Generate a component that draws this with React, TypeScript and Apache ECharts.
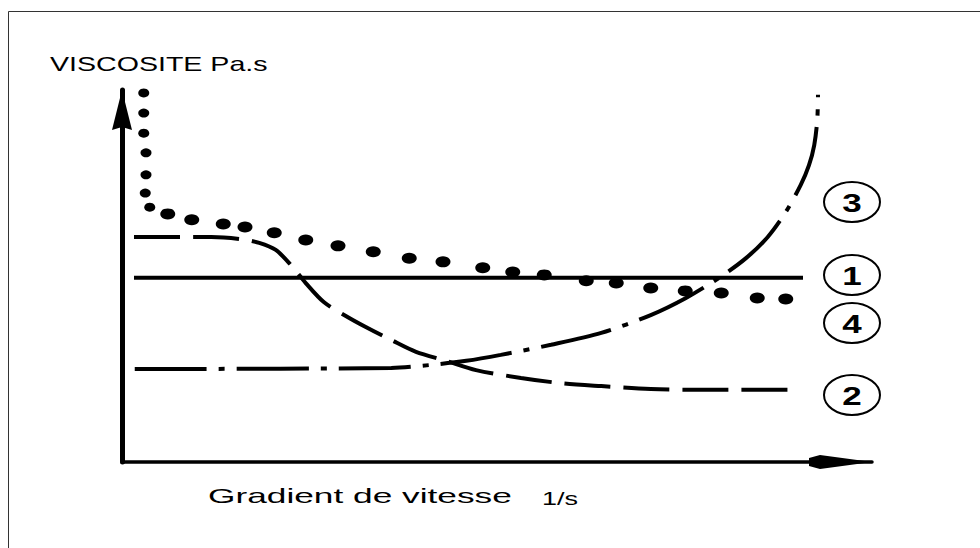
import { useEffect, useRef } from "react";
import * as echarts from "echarts";

// Axis range (abstract units)
const X_MIN = 0;
const X_MAX = 100;
const Y_MIN = 0;
const Y_MAX = 100;

// Curve 1 : Newtonian (solid, constant)
const curve1X = [1.6, 90.8];
const curve1Y = [49.5, 49.5];

// Curve 2 : shear-thinning (dashed)
const curve2X = [1.6, 11.9, 15.9, 18.3, 20.5, 22.5, 24.5, 26.9, 29.9, 32.5, 35.9, 39.2, 43.2, 47.2, 53.2, 58.5, 63.9, 70.5, 77.2, 90.1];
const curve2Y = [60.5, 60.5, 59.9, 58.9, 57.0, 53.0, 48.1, 43.0, 39.2, 36.3, 32.8, 29.6, 27.2, 24.7, 22.6, 21.2, 20.4, 19.6, 19.4, 19.4];

// Curve 3 : shear-thickening (dash-dot)
const curve3X = [1.7, 35.9, 41.2, 45.9, 50.5, 57.2, 63.9, 70.5, 75.2, 79.6, 83.2, 86.1, 88.5, 90.5, 91.6, 92.3, 92.7, 92.8];
const curve3Y = [25.0, 25.3, 26.1, 27.2, 28.8, 31.5, 34.7, 39.5, 44.1, 49.5, 54.8, 60.5, 67.2, 74.5, 79.8, 85.2, 91.9, 98.7];

// Curve 4 : plastic / yield (big dots)
const curve4X = [2.9, 2.9, 2.9, 3.2, 3.2, 3.1, 3.7, 6.1, 9.3, 13.5, 16.4, 20.3, 24.5, 28.8, 33.5, 38.3, 42.8, 48.1, 52.1, 56.3, 61.9, 65.9, 70.5, 75.1, 79.9, 84.7, 88.5];
const curve4Y = [99.2, 93.8, 88.4, 83.1, 77.2, 72.3, 68.5, 66.7, 65.1, 64.0, 63.2, 61.6, 59.7, 58.1, 56.5, 54.8, 53.8, 52.2, 51.1, 50.3, 48.7, 48.1, 46.8, 46.0, 45.4, 44.1, 43.8];

// Texts
const yTitle = "VISCOSITE Pa.s";
const xTitle = "Gradient de vitesse";
const xUnit = "1/s";
const curveLabels = ["3", "1", "4", "2"];

const zip = (xs: number[], ys: number[]) => xs.map((x, i) => [x, ys[i]]);

export default function App() {
  const ref = useRef<HTMLDivElement>(null);

  useEffect(() => {
    if (!ref.current) return;
    const chart = echarts.init(ref.current, null, { renderer: "svg" });
    const font = '"Liberation Sans", Arial, sans-serif';
    const labelCenters = [
      [852, 202],
      [852, 275],
      [852, 323],
      [852, 395],
    ];
    const labelGraphics: any[] = [];
    curveLabels.forEach((t, i) => {
      const [cx, cy] = labelCenters[i];
      labelGraphics.push({
        type: "ellipse",
        shape: { cx, cy, rx: 28, ry: 20 },
        style: { fill: "none", stroke: "#000", lineWidth: 2 },
        silent: true,
      });
      labelGraphics.push({
        type: "text",
        x: cx,
        y: cy + 1,
        scaleX: 1.4,
        style: {
          text: t,
          fontSize: 25,
          fontWeight: "bold",
          fontFamily: font,
          fill: "#000",
          align: "center",
          verticalAlign: "middle",
        },
        silent: true,
      });
    });

    chart.setOption({
      animation: false,
      backgroundColor: "#fff",
      grid: { left: 122, top: 90, width: 750, height: 372, containLabel: false },
      xAxis: {
        type: "value",
        min: X_MIN,
        max: X_MAX,
        axisLine: {
          show: true,
          onZero: false,
          symbol: ["none", "path://M0,0 L7,52 L4,63 L-4,63 L-7,52 Z"],
          symbolSize: [14, 63],
          symbolOffset: [0, -31.5],
          lineStyle: { color: "#000", width: 3.5 },
        },
        axisTick: { show: false },
        axisLabel: { show: false },
        splitLine: { show: false },
      },
      yAxis: {
        type: "value",
        min: Y_MIN,
        max: Y_MAX,
        axisLine: {
          show: true,
          onZero: false,
          symbol: ["none", "path://M0,0 L10,40 L0,37 L-10,40 Z"],
          symbolSize: [20, 40],
          symbolOffset: [0, -20],
          lineStyle: { color: "#000", width: 5 },
        },
        axisTick: { show: false },
        axisLabel: { show: false },
        splitLine: { show: false },
      },
      series: [
        {
          name: "1",
          type: "line",
          data: zip(curve1X, curve1Y),
          showSymbol: false,
          clip: false,
          silent: true,
          lineStyle: { color: "#000", width: 4, type: "solid" },
        },
        {
          name: "2",
          type: "line",
          data: zip(curve2X, curve2Y),
          showSymbol: false,
          smooth: 0.3,
          clip: false,
          silent: true,
          lineStyle: { color: "#000", width: 4, type: [46, 13] },
        },
        {
          name: "3",
          type: "line",
          data: zip(curve3X, curve3Y),
          showSymbol: false,
          smooth: 0.3,
          clip: false,
          silent: true,
          lineStyle: { color: "#000", width: 4, type: [72, 12, 6, 12] },
        },
        {
          name: "4",
          type: "scatter",
          data: zip(curve4X, curve4Y),
          symbol: "circle",
          symbolSize: (_v: any, p: any) => (p.dataIndex < 7 ? [11, 9] : [15, 11]),
          clip: false,
          silent: true,
          itemStyle: { color: "#000", opacity: 1 },
        },
      ],
      graphic: [
        {
          type: "rect",
          shape: { x: 8.5, y: 11.5, width: 1200, height: 800 },
          style: { fill: "none", stroke: "#333", lineWidth: 1 },
          silent: true,
        },
        {
          type: "text",
          x: 50,
          y: 64,
          scaleX: 1.43,
          style: {
            text: yTitle,
            fontSize: 20,
            fontFamily: font,
            fill: "#000",
            align: "left",
            verticalAlign: "middle",
          },
          silent: true,
        },
        {
          type: "text",
          x: 208,
          y: 496,
          scaleX: 1.68,
          style: {
            text: xTitle,
            fontSize: 21,
            fontFamily: font,
            fill: "#000",
            align: "left",
            verticalAlign: "middle",
          },
          silent: true,
        },
        {
          type: "text",
          x: 542,
          y: 499,
          scaleX: 1.5,
          style: {
            text: xUnit,
            fontSize: 18,
            fontFamily: font,
            fill: "#000",
            align: "left",
            verticalAlign: "middle",
          },
          silent: true,
        },
        ...labelGraphics,
      ],
    });
    return () => chart.dispose();
  }, []);

  return (
    <div
      ref={ref}
      style={{ position: "fixed", left: 0, top: 0, width: 980, height: 548, background: "#fff" }}
    />
  );
}
